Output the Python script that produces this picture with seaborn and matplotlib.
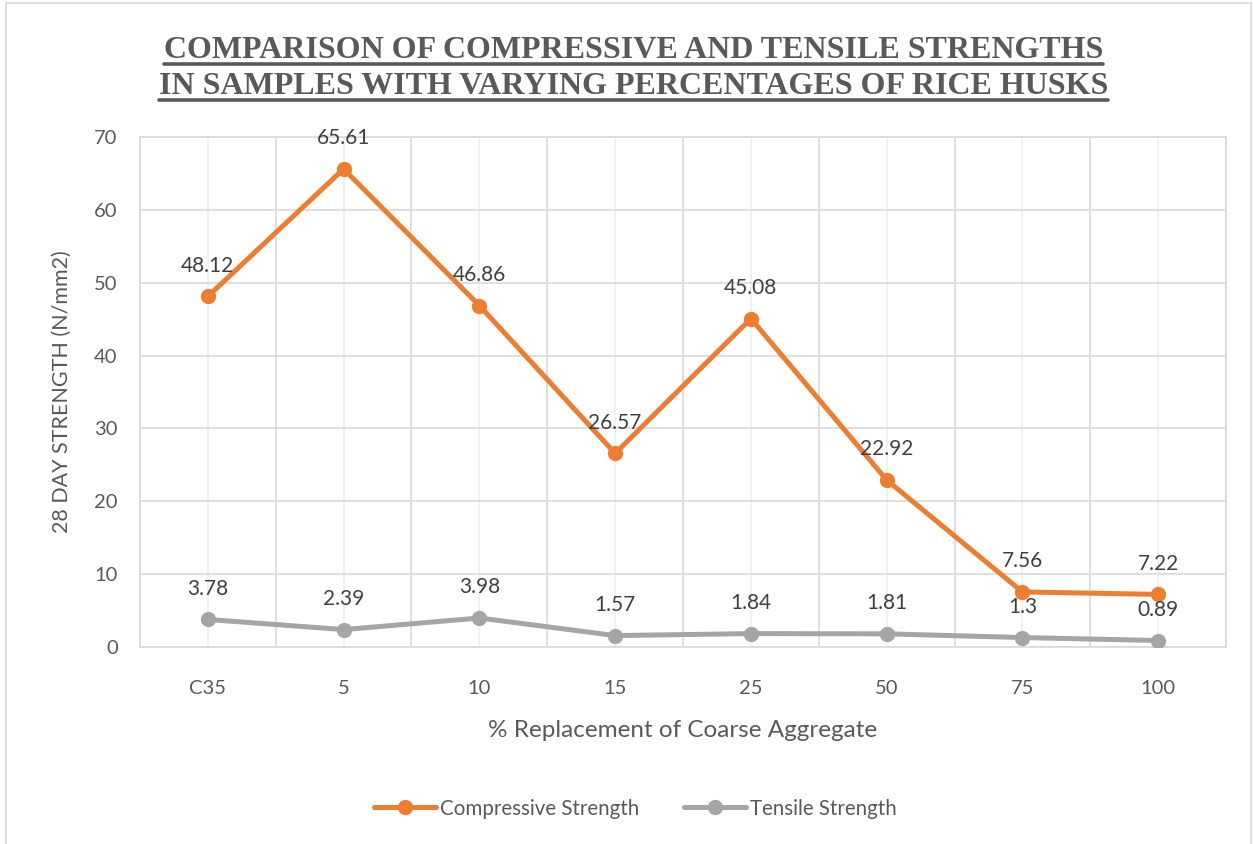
import matplotlib
matplotlib.use('Agg')
import matplotlib.pyplot as plt
import seaborn as sns
import numpy as np
import pandas as pd
from matplotlib.lines import Line2D
from matplotlib.patches import Rectangle

categories = ['C35', '5', '10', '15', '25', '50', '75', '100']
compressive = [48.12, 65.61, 46.86, 26.57, 45.08, 22.92, 7.56, 7.22]
tensile = [3.78, 2.39, 3.98, 1.57, 1.84, 1.81, 1.3, 0.89]
series_names = ['Compressive Strength', 'Tensile Strength']
title_lines = ['COMPARISON OF COMPRESSIVE AND TENSILE STRENGTHS',
               'IN SAMPLES WITH VARYING PERCENTAGES OF RICE HUSKS']

sns.set_theme(style='white')
plt.rcParams['font.family'] = ['Lato', 'DejaVu Sans']

text_col = '#595959'
grid_major = '#d9d9d9'
grid_minor = '#efefef'
colors = {'Compressive Strength': '#ED7D31', 'Tensile Strength': '#A5A5A5'}

pos = np.arange(len(categories))
df = pd.DataFrame({
    'pos': np.concatenate([pos, pos]),
    'value': compressive + tensile,
    'series': [series_names[0]] * len(pos) + [series_names[1]] * len(pos),
})

fig = plt.figure(figsize=(12.53, 8.44), dpi=100)
ax = fig.add_axes([0.1117, 0.2334, 0.8668, 0.6043])

sns.lineplot(data=df, x='pos', y='value', hue='series', palette=colors,
             marker='o', markersize=11, markeredgewidth=0, linewidth=3.6,
             ax=ax, legend=False, zorder=3)

ax.set_xlim(-0.5, len(categories) - 0.5)
ax.set_ylim(0, 70)
ax.set_yticks(np.arange(0, 71, 10))
ax.set_xticks(pos)
ax.set_xticklabels(categories)
ax.set_xticks(np.arange(-0.5, len(categories), 1), minor=True)
ax.tick_params(axis='both', which='both', length=0, labelsize=14.5,
               labelcolor=text_col)
ax.tick_params(axis='x', pad=24)
ax.tick_params(axis='y', pad=16)
ax.grid(True, which='minor', axis='x', color=grid_major, linewidth=1.2)
ax.grid(True, which='major', axis='x', color=grid_minor, linewidth=1.2)
ax.grid(True, which='major', axis='y', color=grid_major, linewidth=1.2)
for sp in ax.spines.values():
    sp.set_color(grid_major)
    sp.set_linewidth(1.2)

ax.set_xlabel('% Replacement of Coarse Aggregate', fontsize=17.5,
              color=text_col, labelpad=16)
ax.set_ylabel('28 DAY STRENGTH (N/mm2)', fontsize=15.5, color=text_col,
              labelpad=16)

# data labels
for vals in (compressive, tensile):
    for x, v in zip(pos, vals):
        ax.annotate(f'{v:g}', (x, v), xytext=(0, 22), textcoords='offset points',
                    ha='center', va='center', fontsize=15, color='#404040',
                    zorder=4)

# legend
handles = [Line2D([], [], color=colors[n], marker='o', markersize=11,
                  linewidth=3.6, markeredgewidth=0) for n in series_names]
fig.legend(handles, series_names, loc='center', bbox_to_anchor=(0.507, 0.042),
           ncol=2, frameon=False, fontsize=14.8, labelcolor=text_col,
           handlelength=3, handletextpad=0.2, columnspacing=2.2)

# title with underline
fig.canvas.draw()
renderer = fig.canvas.get_renderer()
for i, line in enumerate(title_lines):
    y = 1 - (50 + 36 * i) / 844
    t = fig.text(0.5055, y, line, ha='center', va='center',
                 family=['Liberation Serif'], fontweight='bold',
                 fontsize=23, color=text_col)
    bb = t.get_window_extent(renderer).transformed(fig.transFigure.inverted())
    uy = 1 - (63.5 + 36 * i) / 844
    fig.add_artist(Line2D([bb.x0, bb.x1], [uy, uy], color=text_col,
                          linewidth=2.6, transform=fig.transFigure))

# chart border
fig.add_artist(Rectangle((6 / 1253, -0.01), 1245 / 1253, 1.007,
                         transform=fig.transFigure, fill=False,
                         edgecolor=grid_major, linewidth=1.2))

fig.savefig('out.png', dpi=100)
